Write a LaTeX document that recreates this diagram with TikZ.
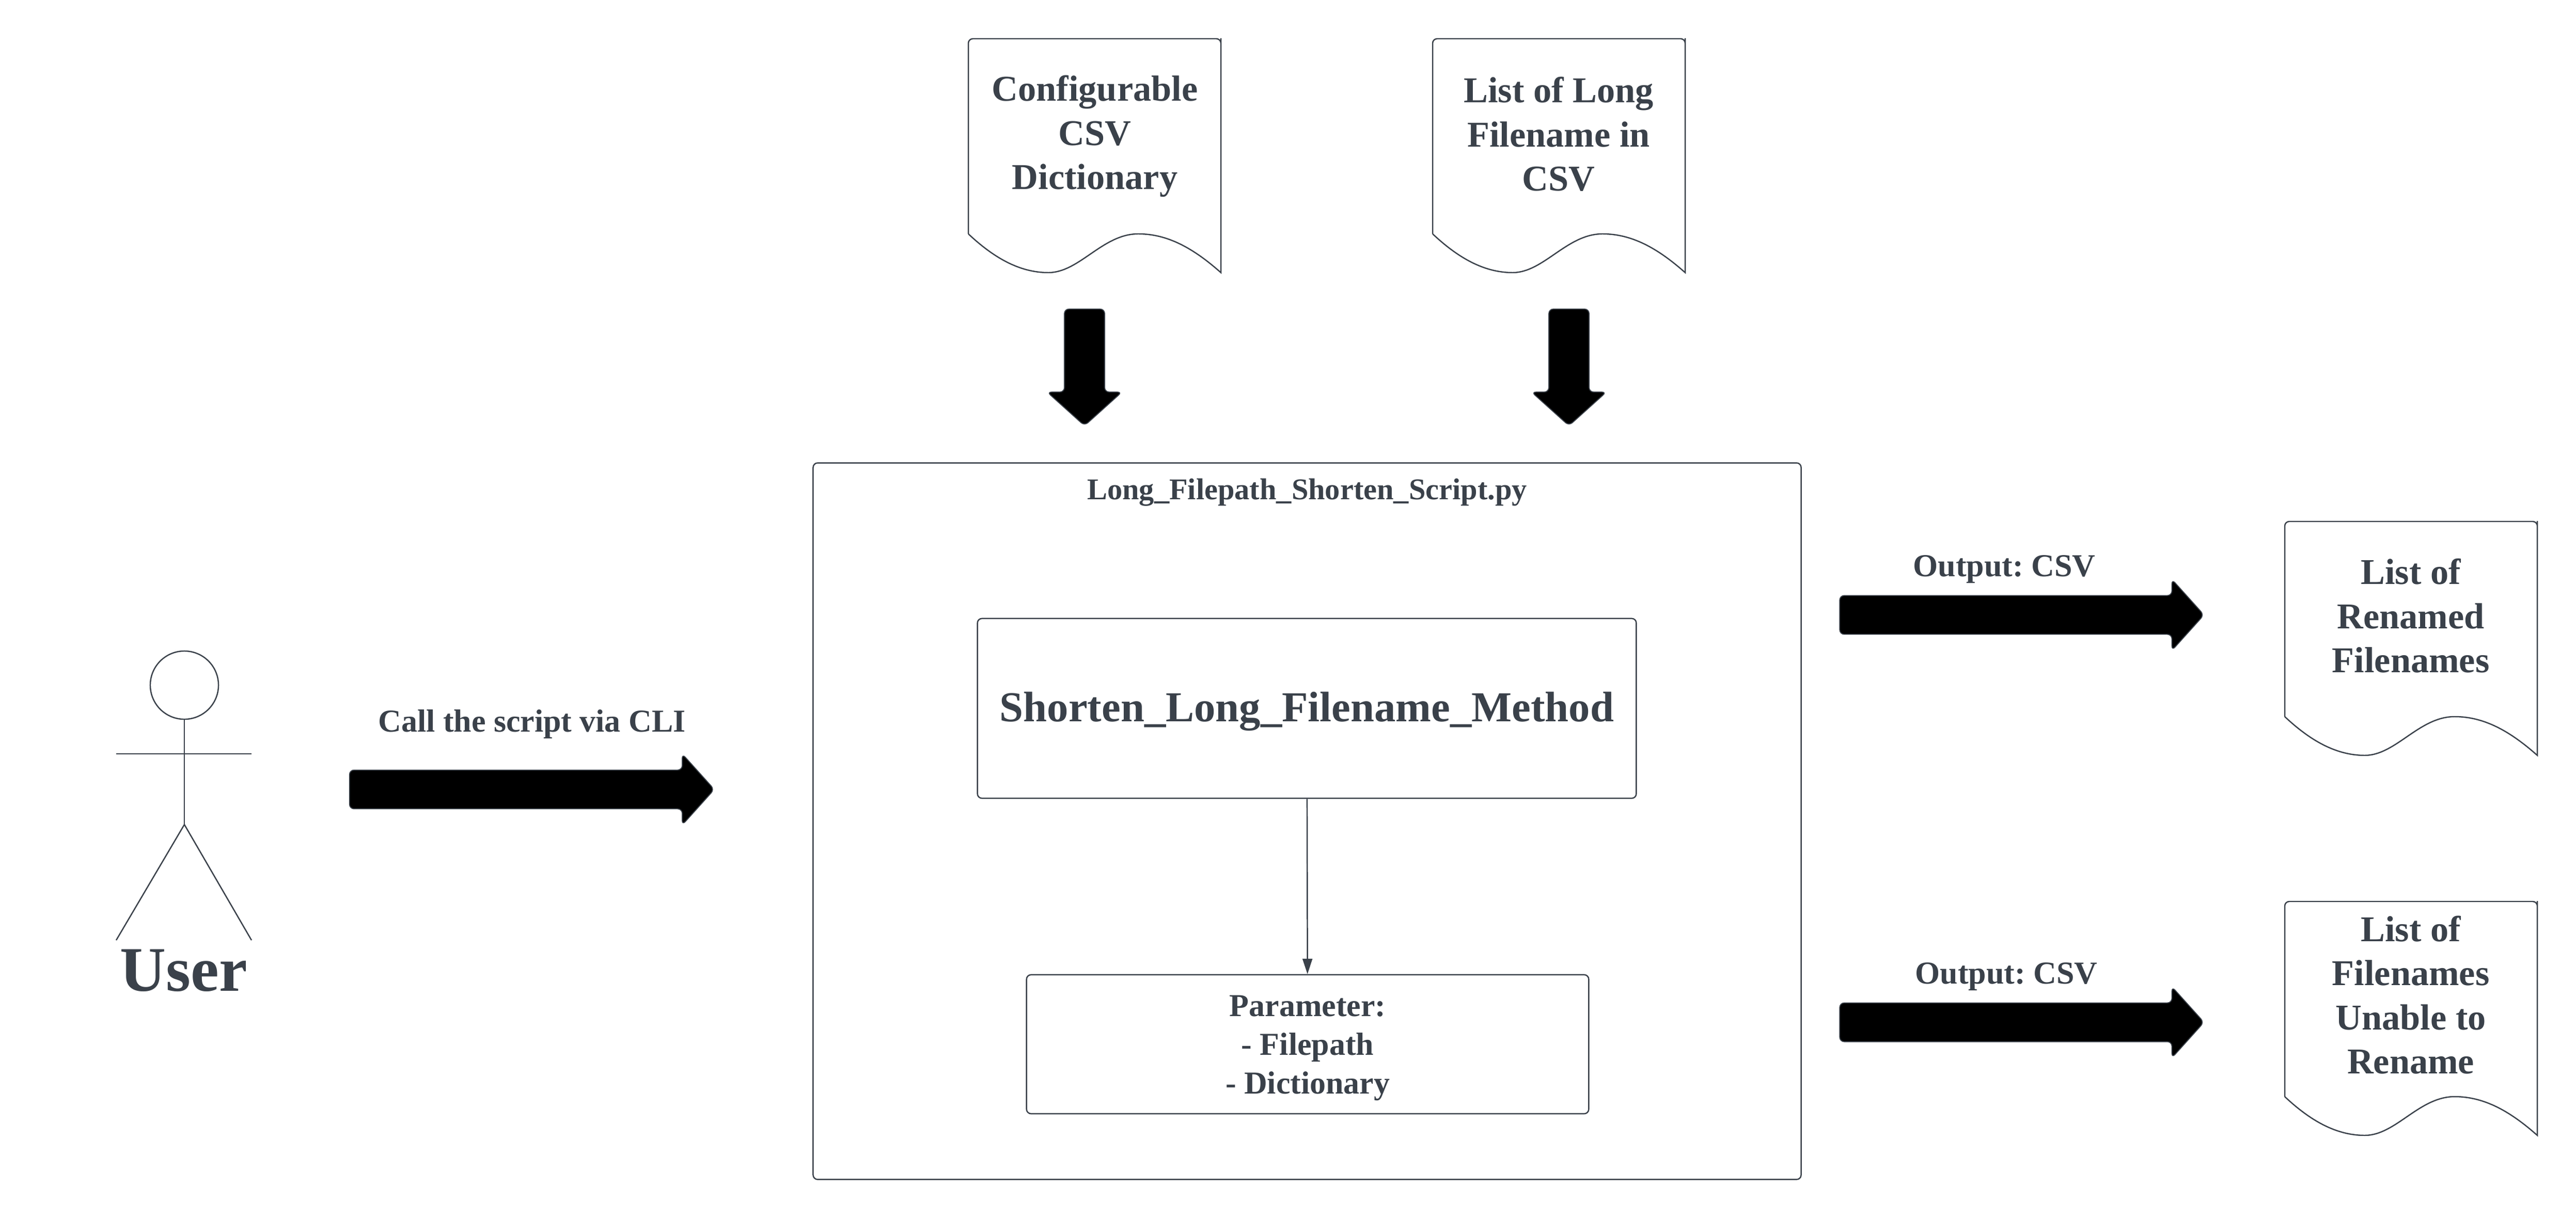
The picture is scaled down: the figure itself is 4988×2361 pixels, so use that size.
\documentclass[tikz,border=0pt]{standalone}
\usepackage{fontspec}
\setmainfont{Liberation Serif}
\usetikzlibrary{arrows.meta,shapes.arrows}
\definecolor{inkgray}{HTML}{3A414A}
\tikzset{
  docshape/.pic={
    \draw[line] (0,378) -- (0,8) [rounded corners=2.5pt] -- (0,0) -- (489,0) -- (489,8) [sharp corners] -- (489,453)
      .. controls (435,405) and (385,378) .. (329,378)
      .. controls (260,378) and (215,453) .. (155,453)
      .. controls (100,453) and (50,425) .. (0,378);
  }
}
\begin{document}
\frenchspacing
\begin{tikzpicture}
        [x=0.01cm, y=-0.01cm,
        line/.style={draw=inkgray, line width=0.7pt},
        box/.style={line, rectangle, rounded corners=2.5pt, inner sep=0pt},
        label/.style={text=inkgray, font=\fontsize{17.6}{21.3}\selectfont\bfseries, align=center, inner sep=0pt},
        doclabel/.style={text=inkgray, font=\fontsize{20}{24.3}\selectfont\bfseries, align=center, inner sep=0pt},
        blockarrow/.style={single arrow, draw=inkgray, fill=black, line width=0.5pt, rounded corners=2.5pt,
          inner sep=0pt, text width=0pt, single arrow tip angle=96},
        longarrow/.style={blockarrow, inner ysep=0.35cm, minimum width=1.38cm, single arrow head extend=0.3cm},
        downarrow/.style={blockarrow, rotate=-90, inner ysep=0.375cm, minimum width=1.45cm, minimum height=2.26cm, single arrow head extend=0.33cm}]

        \useasboundingbox (0,0) rectangle (4988,2361);

        % documents on top
        \pic at (1875,75) {docshape};
        \pic at (2774,75) {docshape};
        \node[doclabel] (dictlabel) at (2120,264) {Configurable\\CSV\\Dictionary};
        \node[doclabel] (listlabel) at (3018,260) {List of Long\\Filename in\\CSV};
        \node[downarrow] (dictarrow) at (2100,694) {};
        \node[downarrow] (listarrow) at (3038,694) {};

        % the script
        \node[box, minimum width=19.12cm, minimum height=13.87cm] (scriptbox) at (2531,1590.5) {};
        \node[label, font=\fontsize{16.6}{20}\selectfont\bfseries] (scriptlabel) at (2531,954) {Long\_Filepath\_Shorten\_Script.py};
        \node[box, minimum width=12.75cm, minimum height=3.48cm, text=inkgray, text height=19.5pt, text depth=4.8pt, font=\fontsize{23.5}{28}\selectfont\bfseries] (methodbox) at (2530.5,1372) {Shorten\_Long\_Filename\_Method};
        \node[box, minimum width=10.88cm, minimum height=2.69cm] (parambox) at (2532,2022.5) {};
        \node[label] (paramlabel) at (2532,2030) {Parameter:\\- Filepath\\- Dictionary};
        \draw[line, -{Triangle[length=8.5pt,width=5.4pt]}] (methodbox) -- (parambox);

        % user on the left
        \node[line, circle, minimum size=1.32cm, inner sep=0pt] (userhead) at (357,1327) {};
        \coordinate (userhip) at (357,1597);
        \coordinate (armleft) at (225,1460);
        \coordinate (armright) at (487,1460);
        \coordinate (footleft) at (225,1821);
        \coordinate (footright) at (487,1821);
        \draw[line] (userhead) -- (userhip);
        \draw[line] (armleft) -- (armright);
        \draw[line] (footleft) -- (userhip) -- (footright);
        \node[text=inkgray, font=\fontsize{35}{42}\selectfont\bfseries, inner sep=0pt] (userlabel) at (356,1880) {User};

        \node[label] (calllabel) at (1030,1403) {Call the script via CLI};
        \node[longarrow, minimum height=7.06cm] (callarrow) at (1013,1529) {};

        % outputs
        \node[label] (outlabela) at (3881,1103) {Output: CSV};
        \node[longarrow, minimum height=7.05cm] (outarrowa) at (3898,1191) {};
        \node[label] (outlabelb) at (3885,1892) {Output: CSV};
        \node[longarrow, minimum height=7.05cm] (outarrowb) at (3898,1980) {};
        \pic at (4424,1010) {docshape};
        \pic at (4424,1746) {docshape};
        \node[doclabel] (renamedlabel) at (4668,1193) {List of\\Renamed\\Filenames};
        \node[doclabel] (unablelabel) at (4668,1927) {List of\\Filenames\\Unable to\\Rename};

\end{tikzpicture}
\end{document}
